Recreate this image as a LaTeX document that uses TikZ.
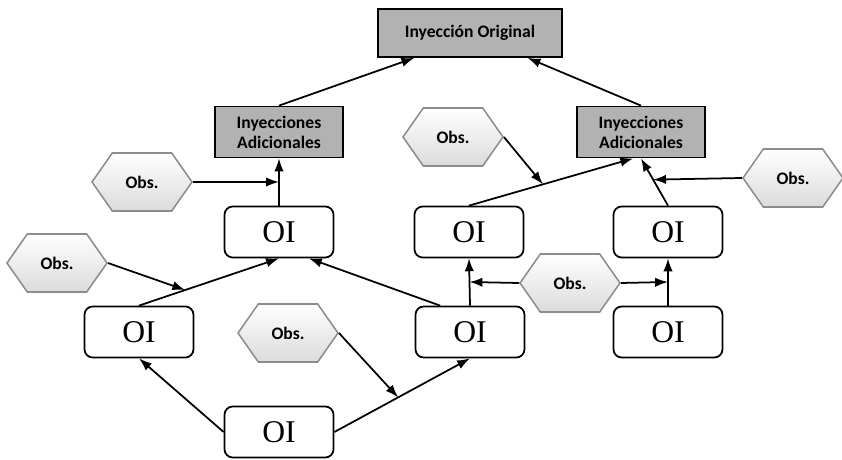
\documentclass[tikz,border=0pt]{standalone}
\usepackage{fontspec}
\setmainfont{Liberation Serif}
\newfontfamily\lblfont{Carlito}
\usetikzlibrary{arrows.meta,calc,shapes.symbols}

\tikzset{
  inybox/.style={draw, line width=1.5pt, fill=black!30, minimum width=3.84cm,
    minimum height=1.53cm, align=center, inner sep=2pt,
    font=\lblfont\bfseries\fontsize{15}{17}\selectfont},
  oibox/.style={draw, line width=1.5pt, rounded corners=7pt, fill=white,
    minimum width=3.27cm, minimum height=1.53cm,
    font=\fontsize{27}{29}\selectfont},
  obshex/.style={signal, signal to=east and west, signal pointer angle=110,
    draw=black!45, line width=1.3pt, top color=white, bottom color=black!14,
    minimum width=3cm, minimum height=1.74cm, inner sep=0pt,
    font=\lblfont\bfseries\fontsize{15}{17}\selectfont},
  arr/.style={-{Latex[length=11pt,width=8pt]}, line width=1.5pt}
}

\begin{document}
\begin{tikzpicture}[x=0.03cm, y=-0.03cm]

    \useasboundingbox (0,0) rectangle (842,460);

    % Injection boxes
    \node[inybox, minimum width=5.52cm, minimum height=1.44cm] (io) at (470,33) {Inyección Original};
    \node[inybox] (iaL) at (279,132) {Inyecciones\\Adicionales};
    \node[inybox] (iaR) at (641,132) {Inyecciones\\Adicionales};

    % OI boxes
    \node[oibox] (oiTL) at (279,232) {OI};
    \node[oibox] (oiTM) at (469,232) {OI};
    \node[oibox] (oiTR) at (668,232) {OI};
    \node[oibox] (oiL) at (139,332) {OI};
    \node[oibox] (oiM) at (470,332) {OI};
    \node[oibox] (oiBR) at (668,332) {OI};
    \node[oibox] (oiB) at (279,432) {OI};

    % Observations
    \node[obshex] (obs1) at (142,182) {Obs.};
    \node[obshex] (obs2) at (57,263) {Obs.};
    \node[obshex] (obs3) at (288,333) {Obs.};
    \node[obshex] (obs4) at (453,137) {Obs.};
    \node[obshex] (obs5) at (570,283) {Obs.};
    \node[obshex] (obs6) at (793,178) {Obs.};

    % Arrows to the original injection
    \draw[arr] (iaL.north) -- ($(io.south west)!0.2!(io.south east)$);
    \draw[arr] (iaR.north) -- ($(io.south west)!0.81!(io.south east)$);

    % Arrows between OI boxes
    \draw[arr] (oiTL.north) -- (iaL.south);
    \draw[arr] (oiL.north) -- (oiTL.south);
    \draw[arr] (oiB.west) -- (oiL.south);
    \draw[arr] (oiB.east) -- (oiM.south);
    \draw[arr] ($(oiM.north west)!0.23!(oiM.north east)$) -- ($(oiTL.south west)!0.77!(oiTL.south east)$);
    \draw[arr] (oiM.north) -- (oiTM.south);
    \draw[arr] (oiBR.north) -- (oiTR.south);
    \draw[arr] (oiTM.north) -- ($(iaR.south west)!0.44!(iaR.south east)$);
    \draw[arr] (oiTR.north) -- (iaR.south);

    % Points where the observations come in
    \coordinate (j1) at ($(oiTL.north)!0.5!(iaL.south)$);
    \coordinate (j2) at ($(oiL.north)!0.33!(oiTL.south)$);
    \coordinate (j3) at ($(oiB.east)!0.47!(oiM.south)$);
    \coordinate (j4) at ($(oiTM.north)!0.45!($(iaR.south west)!0.44!(iaR.south east)$)$);
    \coordinate (j5) at ($(oiM.north)!0.5!(oiTM.south)$);
    \coordinate (j6) at ($(oiBR.north)!0.5!(oiTR.south)$);
    \coordinate (j7) at ($(oiTR.north)!0.55!(iaR.south)$);

    % Observation arrows
    \draw[arr] (obs1.east) -- (j1);
    \draw[arr] (obs2.east) -- (j2);
    \draw[arr] (obs3.east) -- (j3);
    \draw[arr] (obs4.east) -- (j4);
    \draw[arr] (obs5.west) -- (j5);
    \draw[arr] (obs5.east) -- (j6);
    \draw[arr] (obs6.west) -- (j7);

\end{tikzpicture}
\end{document}
